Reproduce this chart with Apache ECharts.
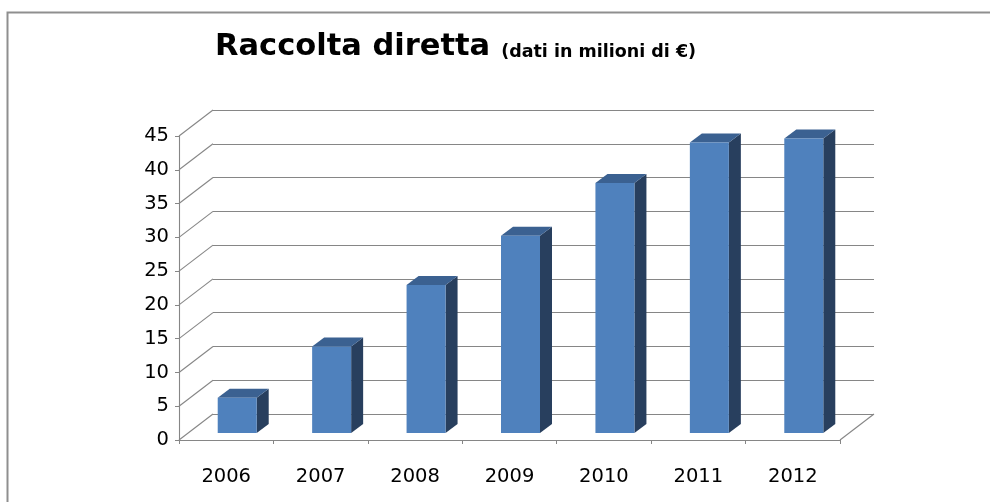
<!DOCTYPE html>
<html>
<head>
<meta charset="utf-8">
<script src="https://cdn.jsdelivr.net/npm/echarts@6/dist/echarts.min.js"></script>
<style>
html,body{margin:0;padding:0;background:#fff;}
#chart{width:990px;height:502px;}
</style>
</head>
<body>
<div id="chart"></div>
<script>
const categories = ['2006', '2007', '2008', '2009', '2010', '2011', '2012'];
const values = [5.2, 12.8, 21.9, 29.2, 37.0, 43.0, 43.6];
const yTicks = [0, 5, 10, 15, 20, 25, 30, 35, 40, 45];

const DX = 34, DY = 26;          // wall depth
const BOY = 7;                   // bar front offset into depth
const BDX = 12, BDY = 9;         // bar depth
const GRID_COLOR = '#868686';

const chart = echarts.init(document.getElementById('chart'), null, {renderer: 'canvas'});

function wallRender(params, api) {
  const p = api.coord([0, api.value(1)]);
  const x0 = params.coordSys.x;
  return {
    type: 'line',
    shape: {x1: x0, y1: p[1], x2: x0 + DX, y2: p[1] - DY},
    style: {stroke: GRID_COLOR, lineWidth: 1.1}
  };
}

function floorRightRender(params, api) {
  const p = api.coord([0, 0]);
  const x0 = params.coordSys.x + params.coordSys.width;
  return {
    type: 'line',
    shape: {x1: x0, y1: p[1], x2: x0 + DX, y2: p[1] - DY},
    style: {stroke: GRID_COLOR, lineWidth: 1.1}
  };
}

function barRender(params, api) {
  const idx = api.value(0);
  const top = api.coord([idx, api.value(1)]);
  const base = api.coord([idx, 0]);
  const band = api.size([1, 0])[0];
  const w = band * 0.413;
  const l = top[0] - band * 0.09;
  const r = l + w;
  const yt = top[1] - BOY;
  const yb = base[1] - BOY;
  return {
    type: 'group',
    children: [
      {type: 'polygon', shape: {points: [[r, yt], [r + BDX, yt - BDY], [r + BDX, yb - BDY], [r, yb]]},
        style: {fill: '#283F5E'}},
      {type: 'polygon', shape: {points: [[l, yt], [r, yt], [r + BDX, yt - BDY], [l + BDX, yt - BDY]]},
        style: {fill: '#3B6191'}},
      {type: 'rect', shape: {x: l, y: yt, width: w, height: yb - yt},
        style: {fill: '#4F81BD'}}
    ]
  };
}

const option = {
  animation: false,
  backgroundColor: '#ffffff',
  title: {
    left: 210,
    top: 27,
    text: '{a|Raccolta diretta} {b|(dati in milioni di €)}',
    textStyle: {
      rich: {
        a: {fontFamily: 'DejaVu Sans', fontWeight: 'bold', fontSize: 30.5, color: '#000'},
        b: {fontFamily: 'DejaVu Sans', fontWeight: 'bold', fontSize: 17.5, color: '#000', padding: [9, 0, 0, 6]}
      }
    }
  },
  graphic: [
    {type: 'rect', shape: {x: 7.5, y: 12.5, width: 1100, height: 700},
      style: {fill: 'none', stroke: '#8f8f8f', lineWidth: 2}, z: 0}
  ],
  grid: [
    {left: 179, right: 150, top: 136, bottom: 62},
    {left: 213, right: 116, top: 110, bottom: 88}
  ],
  xAxis: [
    {
      type: 'category', gridIndex: 0, data: categories, boundaryGap: true,
      axisLine: {show: true, lineStyle: {color: GRID_COLOR, width: 1.1}},
      axisTick: {show: true, length: 4, lineStyle: {color: GRID_COLOR}},
      axisLabel: {color: '#000', fontFamily: 'DejaVu Sans', fontSize: 19.5, margin: 27},
      splitLine: {show: false}
    },
    {
      type: 'value', gridIndex: 1, min: 0, max: 1, show: false
    }
  ],
  yAxis: [
    {
      type: 'value', gridIndex: 0, min: 0, max: 45, interval: 5,
      axisLine: {show: true, lineStyle: {color: GRID_COLOR, width: 1.1}},
      axisTick: {show: true, length: 4, lineStyle: {color: GRID_COLOR}},
      axisLabel: {color: '#000', fontFamily: 'DejaVu Sans', fontSize: 19.5, margin: 10},
      splitLine: {show: false}
    },
    {
      type: 'value', gridIndex: 1, min: 0, max: 45, interval: 5,
      axisLine: {show: false}, axisTick: {show: false}, axisLabel: {show: false},
      splitLine: {show: true, lineStyle: {color: GRID_COLOR, width: 1.1}}
    }
  ],
  series: [
    {
      type: 'custom', xAxisIndex: 0, yAxisIndex: 0, z: 1,
      data: yTicks.map(v => [0, v]),
      renderItem: wallRender, silent: true
    },
    {
      type: 'custom', xAxisIndex: 0, yAxisIndex: 0, z: 1,
      data: [[0, 0]],
      renderItem: floorRightRender, silent: true
    },
    {
      type: 'custom', xAxisIndex: 0, yAxisIndex: 0, z: 5,
      data: values.map((v, i) => [i, v]),
      renderItem: barRender
    }
  ]
};
chart.setOption(option);
</script>
</body>
</html>
